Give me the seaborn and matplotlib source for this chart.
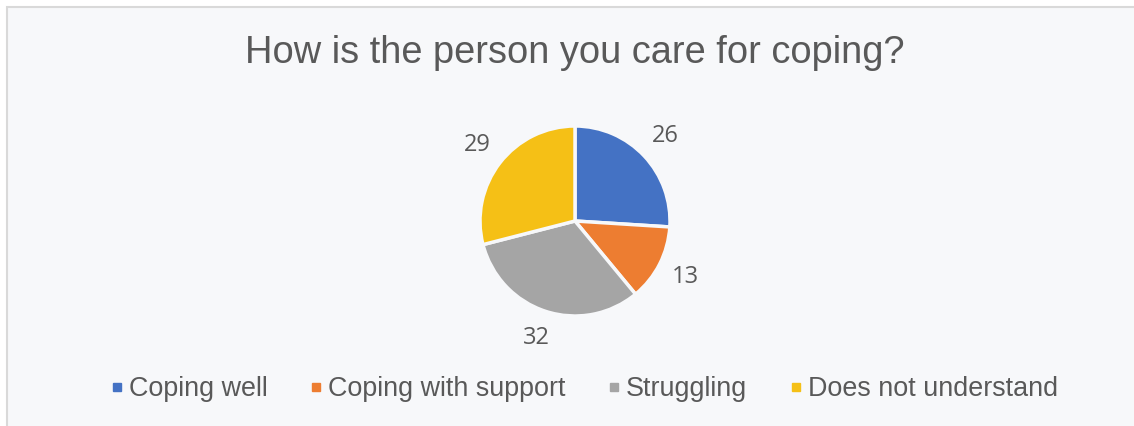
import matplotlib
matplotlib.use("Agg")
import matplotlib.pyplot as plt
import seaborn as sns
from matplotlib.patches import Rectangle
from matplotlib.lines import Line2D

categories = ["Coping well", "Coping with support", "Struggling", "Does not understand"]
values = [26, 13, 32, 29]
colors_hex = ["#4472C4", "#ED7D31", "#A5A5A5", "#F5C016"]
title = "How is the person you care for coping?"

sns.set_theme(style="white")
plt.rcParams["font.family"] = ["Liberation Sans", "DejaVu Sans"]
palette = sns.color_palette(colors_hex)

W, H = 1134, 426
fig = plt.figure(figsize=(W / 100, H / 100), dpi=100, facecolor="white")

# chart area background with border (top/left visible)
bg = Rectangle((7 / W, -0.01), 1.02, 1 - 7 / H + 0.01, transform=fig.transFigure,
               facecolor="#F7F8FA", edgecolor="#D9D9D9", linewidth=1.5, zorder=-5)
fig.patches.append(bg)

text_color = "#595959"

# pie axes
r = 95
cx, cy = 575, H - 221
ax = fig.add_axes([(cx - r) / W, (cy - r) / H, 2 * r / W, 2 * r / H], zorder=2)
ax.set_facecolor("none")
wedges, texts = ax.pie(values, colors=palette, startangle=90, counterclock=False,
                       labels=[str(v) for v in values], labeldistance=1.3,
                       wedgeprops=dict(edgecolor="#F7F8FA", linewidth=2.5),
                       textprops=dict(color=text_color, fontsize=17,
                                      family=["Open Sans", "DejaVu Sans"]))
for t in texts:
    t.set_ha("center")
    t.set_va("center")
ax.set_xlim(-1, 1)
ax.set_ylim(-1, 1)
ax.set_aspect("equal")
ax.axis("off")

fig.text(cx / W, 1 - 63 / H, title, ha="center", va="baseline",
         fontsize=27.4, color=text_color)

handles = [Line2D([0], [0], marker="s", linestyle="none", markersize=6,
                  markerfacecolor=c, markeredgecolor=c) for c in palette]
leg = fig.legend(handles, categories, loc="center", ncol=4,
                 bbox_to_anchor=(584 / W, 1 - 389 / H), frameon=False,
                 fontsize=19.4, handlelength=0.5, handletextpad=0.2,
                 columnspacing=1.55, labelcolor=text_color)

fig.savefig("out.png", dpi=100, facecolor="white")
